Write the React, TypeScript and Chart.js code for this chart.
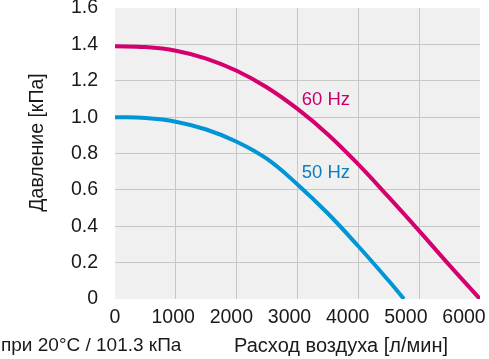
import React, { useEffect, useRef } from "react";
import { Chart, registerables } from "chart.js";

Chart.register(...registerables);

const flow60 = [0, 500, 1000, 1500, 2000, 2500, 3000, 3500, 4000, 4500, 5000, 5500, 6000];
const pressure60 = [1.39, 1.385, 1.365, 1.322, 1.255, 1.163, 1.045, 0.905, 0.74, 0.56, 0.375, 0.185, 0];
const flow50 = [0, 500, 1000, 1500, 2000, 2500, 3000, 3500, 4000, 4500, 4750];
const pressure50 = [1.0, 0.995, 0.975, 0.932, 0.865, 0.77, 0.63, 0.47, 0.29, 0.1, 0];
const xTickValues = [0, 1000, 2000, 3000, 4000, 5000, 6000];
const seriesNames = ["60 Hz", "50 Hz"];
const yTitle = "Давление [кПа]";
const xTitle = "Расход воздуха [л/мин]";
const footnote = "при 20°C / 101.3 кПа";

const FONT = '"Liberation Sans", Arial, Helvetica, sans-serif';
const MAGENTA = "#d4006e";
const BLUE = "#0096d6";

const edgeAware = (min: number, max: number) => (ctx: any) => {
  const v = ctx.tick ? ctx.tick.value : null;
  if (v === min || v === max) return "rgba(0,0,0,0)";
  return "#c6c6c6";
};

const textPlugin = {
  id: "textPlugin",
  beforeDraw(chart: any) {
    const { ctx, chartArea: ca } = chart;
    ctx.save();
    ctx.fillStyle = "#f0f0f0";
    ctx.fillRect(ca.left, ca.top, ca.right - ca.left, ca.bottom - ca.top);
    ctx.restore();
  },
  afterDraw(chart: any) {
    const { ctx, chartArea: ca } = chart;
    const xs = chart.scales.x;
    const ys = chart.scales.y;
    ctx.save();
    ctx.font = `18.5px ${FONT}`;
    ctx.textBaseline = "middle";
    ctx.textAlign = "left";
    ctx.fillStyle = "#c8006e";
    ctx.fillText(seriesNames[0], xs.getPixelForValue(3070), ys.getPixelForValue(1.095));
    ctx.fillStyle = "#0a7dc3";
    ctx.fillText(seriesNames[1], xs.getPixelForValue(3070), ys.getPixelForValue(0.695));

    ctx.fillStyle = "#1a1a1a";
    ctx.font = `20px ${FONT}`;
    ctx.textAlign = "right";
    ctx.fillText(xTitle, ca.right - 32, 346);
    ctx.font = `19px ${FONT}`;
    ctx.textAlign = "left";
    ctx.fillText(footnote, 1, 346);

    ctx.font = `19.5px ${FONT}`;
    ctx.translate(38, (ca.top + ca.bottom) / 2 - 11);
    ctx.rotate(-Math.PI / 2);
    ctx.textAlign = "center";
    ctx.fillText(yTitle, 0, 0);
    ctx.restore();
  },
};

export default function App() {
  const ref = useRef<HTMLCanvasElement>(null);
  useEffect(() => {
    if (!ref.current) return;
    const chart = new Chart(ref.current, {
      type: "line",
      data: {
        datasets: [
          {
            label: seriesNames[0],
            data: flow60.map((x, i) => ({ x, y: pressure60[i] })),
            borderColor: MAGENTA,
            borderWidth: 4,
            pointRadius: 0,
            tension: 0.4,
            fill: false,
          },
          {
            label: seriesNames[1],
            data: flow50.map((x, i) => ({ x, y: pressure50[i] })),
            borderColor: BLUE,
            borderWidth: 4,
            pointRadius: 0,
            tension: 0.4,
            fill: false,
          },
        ],
      },
      options: {
        responsive: false,
        animation: false,
        layout: { padding: { top: 8, right: 9, left: 0, bottom: 0 } },
        plugins: { legend: { display: false }, tooltip: { enabled: false } },
        scales: {
          x: {
            type: "linear",
            position: "bottom",
            min: 0,
            max: 6000,
            ticks: { display: false, stepSize: 1000 },
            grid: { color: edgeAware(0, 6000), drawTicks: false, lineWidth: 1 },
            border: { display: false },
            afterFit: (s: any) => {
              s.height = 0;
              s.paddingLeft = 0;
              s.paddingRight = 0;
            },
          },
          xl: {
            type: "linear",
            position: "bottom",
            min: 0,
            max: 6275,
            grid: { display: false, drawTicks: false },
            border: { display: false },
            ticks: {
              font: { family: FONT, size: 19.5 },
              color: "#1a1a1a",
              padding: 7,
              maxRotation: 0,
              autoSkip: false,
              callback: (v: any) => String(v),
            },
            afterBuildTicks: (s: any) => {
              s.ticks = xTickValues.map((v) => ({ value: v }));
            },
            afterFit: (s: any) => {
              s.height = 60;
              s.paddingLeft = 0;
              s.paddingRight = 0;
            },
          },
          y: {
            type: "linear",
            min: 0,
            max: 1.6,
            ticks: {
              stepSize: 0.2,
              padding: 17,
              font: { family: FONT, size: 19.5 },
              color: "#1a1a1a",
              callback: (v: any) => (Number(v) === 0 ? "0" : Number(v).toFixed(1)),
            },
            grid: { color: edgeAware(0, 1.6), drawTicks: false, lineWidth: 1 },
            border: { display: false },
            afterFit: (s: any) => {
              s.width = 115;
              s.paddingTop = 0;
              s.paddingBottom = 0;
            },
          },
        },
      },
      plugins: [textPlugin],
    } as any);
    return () => chart.destroy();
  }, []);
  return (
    <div style={{ position: "absolute", left: 0, top: 0, width: 489, height: 359 }}>
      <canvas ref={ref} width={489} height={359} style={{ display: "block", width: 489, height: 359 }} />
    </div>
  );
}
